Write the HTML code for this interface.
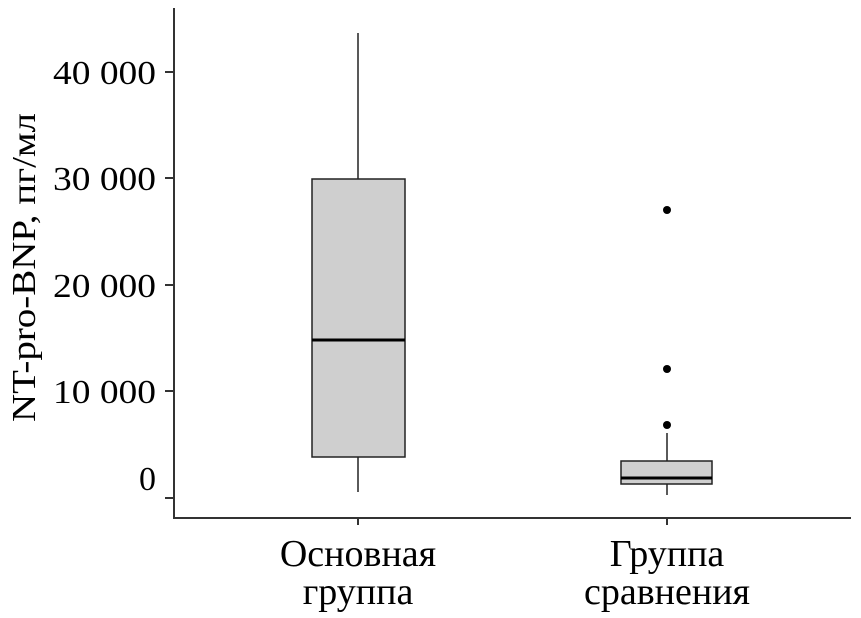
<!DOCTYPE html><html><head><style>body{margin:0;background:#fff}</style></head><body>
<svg width="861" height="613" xmlns="http://www.w3.org/2000/svg" font-family="Liberation Serif, serif" fill="#000">
<rect width="861" height="613" fill="#fff"/>
<g stroke="#333" stroke-width="2">
<line x1="174" y1="8" x2="174" y2="518"/>
<line x1="173" y1="518" x2="851" y2="518"/>
<line x1="165" y1="72" x2="174" y2="72"/>
<line x1="165" y1="178" x2="174" y2="178"/>
<line x1="165" y1="285" x2="174" y2="285"/>
<line x1="165" y1="391" x2="174" y2="391"/>
<line x1="165" y1="498" x2="174" y2="498"/>
<line x1="358" y1="518" x2="358" y2="525"/>
<line x1="667" y1="518" x2="667" y2="525"/>
</g>
<g stroke="#222" stroke-width="1.5">
<line x1="358" y1="33" x2="358" y2="179"/>
<line x1="358" y1="457" x2="358" y2="492"/>
<rect x="312" y="179" width="93" height="278" fill="#cfcfcf"/>
<line x1="667" y1="433" x2="667" y2="461"/>
<line x1="667" y1="484" x2="667" y2="495"/>
<rect x="621" y="461" width="91" height="23" fill="#cfcfcf"/>
</g>
<line x1="312" y1="340" x2="405" y2="340" stroke="#000" stroke-width="3"/>
<line x1="621" y1="478" x2="712" y2="478" stroke="#000" stroke-width="3"/>
<circle cx="667" cy="210" r="4"/><circle cx="667" cy="369" r="4"/><circle cx="667" cy="425" r="4"/>
<g font-size="34">
<text x="53" y="84" textLength="103" lengthAdjust="spacingAndGlyphs">40 000</text>
<text x="53" y="190" textLength="103" lengthAdjust="spacingAndGlyphs">30 000</text>
<text x="53" y="297" textLength="103" lengthAdjust="spacingAndGlyphs">20 000</text>
<text x="53" y="403" textLength="103" lengthAdjust="spacingAndGlyphs">10 000</text>
<text x="156" y="490" text-anchor="end">0</text>
</g>
<text transform="translate(35,422) rotate(-90)" font-size="34" textLength="309" lengthAdjust="spacingAndGlyphs">NT-pro-BNP, пг/мл</text>
<g font-size="38" text-anchor="middle">
<text x="358" y="566">Основная</text>
<text x="358" y="604">группа</text>
<text x="667" y="566">Группа</text>
<text x="667" y="604">сравнения</text>
</g>
</svg>
</body></html>
